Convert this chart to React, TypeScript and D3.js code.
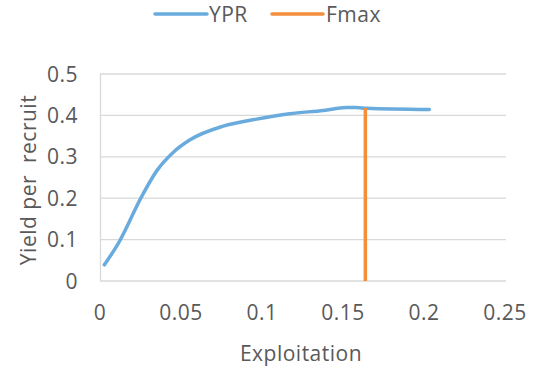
import React from "react";
import * as d3 from "d3";

const exploitation = [0.0027, 0.0113, 0.0257, 0.035, 0.0453, 0.0556, 0.0761, 0.0967, 0.117, 0.138, 0.152, 0.158, 0.1646, 0.2033];
const ypr = [0.039, 0.091, 0.204, 0.266, 0.311, 0.341, 0.374, 0.391, 0.404, 0.412, 0.419, 0.419, 0.417, 0.414];
const fmaxX = [0.1638, 0.1638];
const fmaxY = [0, 0.418];
const xTicks = [0, 0.05, 0.1, 0.15, 0.2, 0.25];
const yTicks = [0, 0.1, 0.2, 0.3, 0.4, 0.5];

const W = 534, H = 373;
const FONT = "'Open Sans', sans-serif";
const TXT = "#595959";
const FS = 21;
const LS = 0.5;

export default function App() {
  const x = d3.scaleLinear().domain([0, 0.25]).range([100, 505]);
  const y = d3.scaleLinear().domain([0, 0.5]).range([281, 74]);
  const line = d3.line<number>().x((_, i) => x(exploitation[i])).y((d) => y(d)).curve(d3.curveMonotoneX);
  return (
    <svg width={W} height={H} style={{ position: "absolute", left: 0, top: 0 }} fontFamily={FONT} letterSpacing={LS}>
      <rect width={W} height={H} fill="#fff" />
      {yTicks.map((t) => (
        <line key={"g" + t} x1={x(0)} x2={506} y1={y(t)} y2={y(t)} stroke="#D9D9D9" strokeWidth={1.3} />
      ))}
      <line x1={x(0) + 0.5} x2={x(0) + 0.5} y1={y(0.5)} y2={y(0)} stroke="#D9D9D9" strokeWidth={1.3} />
      {yTicks.map((t) => (
        <text key={"y" + t} x={78} y={y(t)} dy="0.36em" textAnchor="end" fontSize={FS} fill={TXT}>{String(t)}</text>
      ))}
      {xTicks.map((t) => (
        <text key={"x" + t} x={x(t)} y={312} dy="0.36em" textAnchor="middle" fontSize={FS} fill={TXT}>{String(t)}</text>
      ))}
      <text x={301} y={353} dy="0.36em" textAnchor="middle" fontSize={FS} fill={TXT}>Exploitation</text>
      <text transform="translate(28,180) rotate(-90)" dy="0.36em" textAnchor="middle" fontSize={FS} fill={TXT} style={{ whiteSpace: "pre" }}>{"Yield per  recruit"}</text>
      <path d={line(ypr) || ""} fill="none" stroke="#6AABDE" strokeWidth={3.5} strokeLinecap="round" />
      <line x1={x(fmaxX[0])} x2={x(fmaxX[1])} y1={y(fmaxY[0])} y2={y(fmaxY[1])} stroke="#F28E3C" strokeWidth={3.5} />
      <line x1={155} x2={207} y1={14} y2={14} stroke="#6AABDE" strokeWidth={3.5} strokeLinecap="round" />
      <text x={209} y={14} dy="0.36em" fontSize={FS} fill={TXT}>YPR</text>
      <line x1={272} x2={323} y1={14} y2={14} stroke="#F28E3C" strokeWidth={3.5} strokeLinecap="round" />
      <text x={326} y={14} dy="0.36em" fontSize={FS} fill={TXT}>Fmax</text>
    </svg>
  );
}
